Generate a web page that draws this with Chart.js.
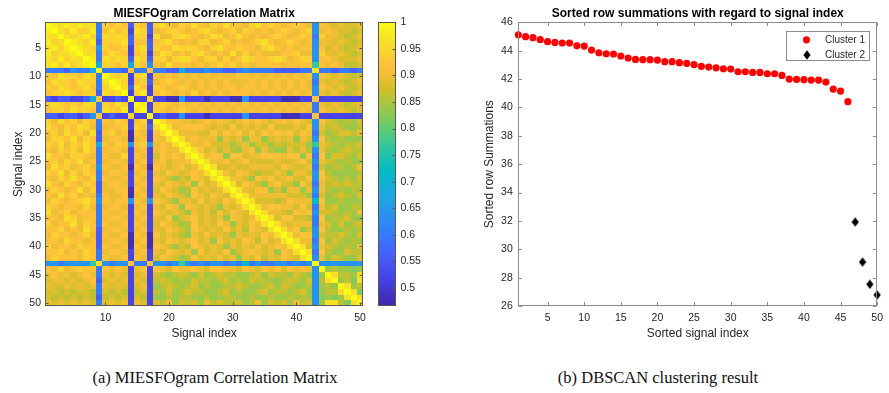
<!DOCTYPE html>
<html>
<head>
<meta charset="utf-8">
<title>MIESFOgram correlation and DBSCAN clustering</title>
<script src="https://cdn.jsdelivr.net/npm/chart.js@4.4.1/dist/chart.umd.min.js"></script>
<style>
  body { margin: 0; background: #fff; }
  #page { position: relative; width: 889px; height: 393px; overflow: hidden; background: #fff; }
  #page canvas { position: absolute; top: 0; }
  .caption {
    position: absolute; top: 368px; line-height: 20px;
    font-family: "Liberation Serif", "DejaVu Serif", serif; font-size: 16.5px; color: #111;
    white-space: nowrap; transform: translateX(-50%);
  }
</style>
</head>
<body>
<div id="page">
  <canvas id="heatmap" width="372" height="344" style="left:0"></canvas>
  <canvas id="colorbar" width="68" height="344" style="left:372px"></canvas>
  <canvas id="scatter" width="449" height="344" style="left:440px"></canvas>
  <div class="caption" style="left:215px">(a) MIESFOgram Correlation Matrix</div>
  <div class="caption" style="left:658px">(b) DBSCAN clustering result</div>
</div>
<script>
// correlation levels: each character in corrRows stands for one of these values
const levelCodes  = ['X', '9', '8', '7', '6', '5', '4', '3', '2', '1', '0', 'g', 'c', 'k', 'b', 'a', 'm', 'n', 'o'];
const levelValues = [1.00, 0.98, 0.96, 0.94, 0.92, 0.90, 0.88, 0.86, 0.84, 0.82, 0.80, 0.77, 0.72, 0.68, 0.64, 0.60, 0.56, 0.52, 0.48];

// lower triangle of the symmetric matrix, row i holds signals 1..i
const corrRows = [
  'X',
  '9X',
  '88X',
  '978X',
  '8979X',
  '97889X',
  '879788X',
  '8979789X',
  'aaambaakX',
  '76877687aX',
  '68776877a8X',
  '76876786a79X',
  '67787677m878X',
  'mnmmnnmk6nnmnX',
  '78767687a7687nX',
  '67768776a8769n9X',
  'mmnmmnmb6nmnn7nnX',
  '75867576a6576n67nX',
  '86576875a5667n76m8X',
  '67586758m6756o65n68X',
  '57768576m5665o56n658X',
  '76857686k6576b67b5658X',
  '65767586a5665n56n56558X',
  '86657765a6557n65n465658X',
  '67576856a5665n56n5645568X',
  '58675675b6556o65o65456458X',
  '76857576a5665n56n546545658X',
  '65768657a6556n65n6542436548X',
  '86576576m5665n56n54654526458X',
  '67656857m5566o65n465423645458X',
  '65867565a6556o56n5465426546548X',
  '57656786b6566b65b65425546454658X',
  '76566575a5665n56n546526545425458X',
  '85675666a6556n65n6545425453646548X',
  '66587566a5665n56n54624564545265458X',
  '75668576a6556n65n465423645465254658X',
  '66756586m5665n56n5465426545464536548X',
  '57665675m6556o65o64543254645425454658X',
  '66576656m5665o56o546545645264546536458X',
  '75665766m6556o65o6542436545425454645658X',
  '66756576a5665n56n54654526454624565452658X',
  '57666576a6556n65n465423645464525463546548X',
  'bbabbbbg8babb6aa6bbabgbababbabacabaabbababX',
  '65756766a6565n56n6546556546655465465646565bX',
  '56554565a5454n45n4323432423433223424332432b2X',
  '45545456m4545n54n3432324332342324332234324b38X',
  '54454545a5454n45n2343234232233432234243223b232X',
  '44343443a4343n34n3242343322342322342332342b2338X',
  '43434343m3434n43n2232332232233223223223232b12128X',
  '54545454a4545n54n4352434253433423524342534b288318X'
];

const signalColTicks = [10, 20, 30, 40, 50];
const signalRowTicks = [5, 10, 15, 20, 25, 30, 35, 40, 45, 50];
const colorbarTicks = [0.5, 0.55, 0.6, 0.65, 0.7, 0.75, 0.8, 0.85, 0.9, 0.95, 1];
const colorLimits = [0.466, 1];

// sorted row sums of the matrix, split by DBSCAN label
const cluster1Index = [1, 2, 3, 4, 5, 6, 7, 8, 9, 10, 11, 12, 13, 14, 15, 16, 17, 18, 19, 20, 21, 22, 23,
  24, 25, 26, 27, 28, 29, 30, 31, 32, 33, 34, 35, 36, 37, 38, 39, 40, 41, 42, 43, 44, 45, 46];
const cluster1Sums = [45.13, 44.99, 44.92, 44.78, 44.64, 44.59, 44.54, 44.54, 44.35, 44.33,
  44.05, 43.86, 43.79, 43.77, 43.63, 43.49, 43.39, 43.37, 43.37, 43.34,
  43.23, 43.23, 43.16, 43.11, 43.02, 42.90, 42.85, 42.80, 42.73, 42.71,
  42.52, 42.52, 42.47, 42.47, 42.38, 42.38, 42.26, 42.00, 41.98, 41.96,
  41.93, 41.93, 41.79, 41.30, 41.16, 40.41];
const cluster2Index = [47, 48, 49, 50];
const cluster2Sums = [31.92, 29.10, 27.53, 26.78];
const sortedIndexTicks = [5, 10, 15, 20, 25, 30, 35, 40, 45, 50];
const rowSumTicks = [26, 28, 30, 32, 34, 36, 38, 40, 42, 44, 46];

const FONT = "'Liberation Sans', Arial, sans-serif";
const INK = '#262626';

// parula colormap, sampled from the 64 entry table
const parulaStops = [
  [0, 0.2422, 0.1504, 0.6603], [6, 0.2783, 0.2559, 0.8991], [12, 0.2699, 0.3892, 0.9906],
  [18, 0.1786, 0.5289, 0.9682], [24, 0.1248, 0.6459, 0.8883], [30, 0.0067, 0.7312, 0.7660],
  [36, 0.2161, 0.7843, 0.5923], [42, 0.5044, 0.7993, 0.3480], [48, 0.8203, 0.7498, 0.1535],
  [53, 0.9956, 0.7434, 0.2371], [58, 0.9676, 0.8639, 0.1643], [63, 0.9769, 0.9839, 0.0805]
];

function parula(v) {
  let t = (v - colorLimits[0]) / (colorLimits[1] - colorLimits[0]);
  t = Math.max(0, Math.min(1, t)) * 63;
  let k = 0;
  while (k < parulaStops.length - 2 && t > parulaStops[k + 1][0]) k++;
  const a = parulaStops[k], b = parulaStops[k + 1];
  const f = (t - a[0]) / (b[0] - a[0]);
  const c = [1, 2, 3].map(i => Math.round(255 * (a[i] + (b[i] - a[i]) * f)));
  return `rgb(${c[0]},${c[1]},${c[2]})`;
}

// expand the triangle into full cells
const cells = [];
corrRows.forEach((row, r) => {
  if (row.length !== r + 1) throw new Error('row ' + (r + 1) + ' has ' + row.length + ' entries');
  for (let c = 0; c <= r; c++) {
    const v = levelValues[levelCodes.indexOf(row[c])];
    cells.push({ x: c + 1, y: r + 1, v: v });
    if (c !== r) cells.push({ x: r + 1, y: c + 1, v: v });
  }
});

function fixedTicks(list) {
  return scale => { scale.ticks = list.map(v => ({ value: v })); };
}

const heatmapCells = {
  id: 'heatmapCells',
  beforeDatasetsDraw(chart) {
    const { ctx, scales: { x, y } } = chart;
    ctx.save();
    chart.data.datasets[0].data.forEach(d => {
      const x0 = Math.round(x.getPixelForValue(d.x - 0.5));
      const x1 = Math.round(x.getPixelForValue(d.x + 0.5));
      const y0 = Math.round(y.getPixelForValue(d.y - 0.5));
      const y1 = Math.round(y.getPixelForValue(d.y + 0.5));
      ctx.fillStyle = parula(d.v);
      ctx.fillRect(x0, y0, x1 - x0, y1 - y0);
    });
    ctx.restore();
  }
};

// box round the plot with inward ticks on all four sides
const axesBox = {
  id: 'axesBox',
  afterDraw(chart, args, opts) {
    const { ctx, chartArea: a, scales: { x, y } } = chart;
    const len = opts.tickLength || 3;
    const L = Math.round(a.left) + 0.5, R = Math.round(a.right) - 0.5;
    const T = Math.round(a.top) + 0.5, B = Math.round(a.bottom) - 0.5;
    ctx.save();
    ctx.strokeStyle = opts.color || '#777';
    ctx.lineWidth = 1;
    ctx.beginPath();
    x.ticks.forEach(t => {
      const px = Math.round(x.getPixelForValue(t.value)) + 0.5;
      ctx.moveTo(px, B); ctx.lineTo(px, B - len);
      ctx.moveTo(px, T); ctx.lineTo(px, T + len);
    });
    y.ticks.forEach(t => {
      const py = Math.round(y.getPixelForValue(t.value)) + 0.5;
      ctx.moveTo(L, py); ctx.lineTo(L + len, py);
      ctx.moveTo(R, py); ctx.lineTo(R - len, py);
    });
    ctx.stroke();
    ctx.strokeRect(L, T, R - L, B - T);
    ctx.restore();
  }
};

const colorbarFill = {
  id: 'colorbarFill',
  beforeDatasetsDraw(chart) {
    const { ctx, chartArea: a, scales: { y } } = chart;
    ctx.save();
    for (let py = Math.round(a.top); py < Math.round(a.bottom); py++) {
      ctx.fillStyle = parula(y.getValueForPixel(py + 0.5));
      ctx.fillRect(Math.round(a.left), py, Math.round(a.right) - Math.round(a.left), 1);
    }
    ctx.restore();
  },
  afterDraw(chart) {
    const { ctx, chartArea: a, scales: { y } } = chart;
    const L = Math.round(a.left) + 0.5, R = Math.round(a.right) - 0.5;
    const T = Math.round(a.top) + 0.5, B = Math.round(a.bottom) - 0.5;
    ctx.save();
    ctx.strokeStyle = '#555';
    ctx.lineWidth = 1;
    ctx.beginPath();
    y.ticks.forEach(t => {
      const py = Math.round(y.getPixelForValue(t.value)) + 0.5;
      ctx.moveTo(R, py); ctx.lineTo(R - 3, py);
    });
    ctx.stroke();
    ctx.strokeRect(L, T, R - L, B - T);
    ctx.restore();
  }
};

const clusterLegend = {
  id: 'clusterLegend',
  afterDraw(chart) {
    const { ctx, chartArea: a } = chart;
    const w = 83, h = 29;
    const left = Math.round(a.right - 8.6 - w) + 0.5, top = Math.round(a.top + 8.4) + 0.5;
    ctx.save();
    ctx.fillStyle = '#fff';
    ctx.fillRect(left, top, w, h);
    ctx.strokeStyle = '#8c8c8c';
    ctx.lineWidth = 1;
    ctx.strokeRect(left, top, w, h);
    chart.data.datasets.forEach((ds, i) => {
      const cx = left + 20, cy = top + 8.3 + i * 15.3;
      if (ds.pointStyle instanceof HTMLCanvasElement) {
        ctx.drawImage(ds.pointStyle, Math.round(cx - ds.pointStyle.width / 2), Math.round(cy - ds.pointStyle.height / 2));
      } else {
        ctx.fillStyle = ds.backgroundColor;
        ctx.beginPath();
        ctx.arc(cx, cy, ds.pointRadius, 0, Math.PI * 2);
        ctx.fill();
      }
      ctx.fillStyle = INK;
      ctx.font = '10px ' + FONT;
      ctx.textAlign = 'left';
      ctx.textBaseline = 'middle';
      ctx.fillText(ds.label, left + 38.5, cy + 0.5);
    });
    ctx.restore();
  }
};

// filled diamond marker, taller than wide
const diamond = document.createElement('canvas');
diamond.width = 8;
diamond.height = 10;
(function () {
  const g = diamond.getContext('2d');
  g.fillStyle = '#000';
  g.beginPath();
  g.moveTo(4, 0.3); g.lineTo(7.6, 5); g.lineTo(4, 9.7); g.lineTo(0.4, 5);
  g.closePath();
  g.fill();
})();

const tickFont = { family: FONT, size: 10.5 };
const labelFont = { family: FONT, size: 12 };
const titleFont = { family: FONT, size: 12, weight: 'bold' };
const quiet = { legend: { display: false }, tooltip: { enabled: false } };

new Chart(document.getElementById('heatmap'), {
  type: 'scatter',
  data: { datasets: [{ data: cells, pointRadius: 0, pointHoverRadius: 0 }] },
  options: {
    responsive: false, animation: false, events: [],
    layout: { padding: { left: 0, right: 5.3, top: 0, bottom: 0 } },
    plugins: Object.assign({}, quiet, {
      title: {
        display: true, text: 'MIESFOgram Correlation Matrix', fullSize: false,
        color: '#000', font: titleFont, padding: { top: 6, bottom: 2 }
      },
      axesBox: { color: '#5a5a5a', tickLength: 3 }
    }),
    scales: {
      x: {
        type: 'linear', min: 0.5, max: 50.5,
        grid: { display: false, drawTicks: false }, border: { display: false },
        afterBuildTicks: fixedTicks(signalColTicks),
        afterFit: s => { s.height = 38; },
        ticks: { color: INK, font: tickFont, padding: 6, maxRotation: 0, autoSkip: false },
        title: { display: true, text: 'Signal index', color: INK, font: labelFont, padding: { top: 0, bottom: 2.8 } }
      },
      y: {
        type: 'linear', reverse: true, min: 0.5, max: 50.5,
        grid: { display: false, drawTicks: false }, border: { display: false },
        afterBuildTicks: fixedTicks(signalRowTicks),
        afterFit: s => { s.width = 45; },
        ticks: { color: INK, font: tickFont, padding: 4, autoSkip: false },
        title: { display: true, text: 'Signal index', color: INK, font: labelFont, padding: { top: 11.1, bottom: 0 } }
      }
    }
  },
  plugins: [heatmapCells, axesBox]
});

new Chart(document.getElementById('colorbar'), {
  type: 'scatter',
  data: { datasets: [] },
  options: {
    responsive: false, animation: false, events: [],
    layout: { padding: { left: 6, right: 0, top: 22.3, bottom: 38 } },
    plugins: quiet,
    scales: {
      x: { type: 'linear', display: false, min: 0, max: 1 },
      y: {
        type: 'linear', position: 'right', min: colorLimits[0], max: colorLimits[1],
        grid: { display: false, drawTicks: false }, border: { display: false },
        afterBuildTicks: fixedTicks(colorbarTicks),
        afterFit: s => { s.width = 44; },
        ticks: { color: INK, font: tickFont, padding: 4.5, autoSkip: false, callback: v => String(Math.round(v * 100) / 100) }
      }
    }
  },
  plugins: [colorbarFill]
});

new Chart(document.getElementById('scatter'), {
  type: 'scatter',
  data: {
    datasets: [
      {
        label: 'Cluster 1',
        data: cluster1Index.map((x, i) => ({ x: x, y: cluster1Sums[i] })),
        pointStyle: 'circle', pointRadius: 3.6, pointHoverRadius: 3.6,
        backgroundColor: '#ff0000', borderWidth: 0, clip: false
      },
      {
        label: 'Cluster 2',
        data: cluster2Index.map((x, i) => ({ x: x, y: cluster2Sums[i] })),
        pointStyle: diamond, pointRadius: 5, pointHoverRadius: 5,
        backgroundColor: '#000', borderWidth: 0, clip: false
      }
    ]
  },
  options: {
    responsive: false, animation: false, events: [],
    layout: { padding: { left: 0, right: 9.7, top: 0, bottom: 0 } },
    plugins: Object.assign({}, quiet, {
      title: {
        display: true, text: 'Sorted row summations with regard to signal index', fullSize: false,
        color: '#000', font: titleFont, padding: { top: 6, bottom: 2 }
      },
      axesBox: { color: '#8c8c8c', tickLength: 3.6 }
    }),
    scales: {
      x: {
        type: 'linear', min: 1, max: 50,
        grid: { display: false, drawTicks: false }, border: { display: false },
        afterBuildTicks: fixedTicks(sortedIndexTicks),
        afterFit: s => { s.height = 38; },
        ticks: { color: INK, font: tickFont, padding: 6, maxRotation: 0, autoSkip: false },
        title: { display: true, text: 'Sorted signal index', color: INK, font: labelFont, padding: { top: 0, bottom: 2.8 } }
      },
      y: {
        type: 'linear', min: 26, max: 46,
        grid: { display: false, drawTicks: false }, border: { display: false },
        afterBuildTicks: fixedTicks(rowSumTicks),
        afterFit: s => { s.width = 78.3; },
        ticks: { color: INK, font: tickFont, padding: 5.5, autoSkip: false },
        title: { display: true, text: 'Sorted row Summations', color: INK, font: labelFont, padding: { top: 42.8, bottom: 0 } }
      }
    }
  },
  plugins: [clusterLegend, axesBox]
});
</script>
</body>
</html>
